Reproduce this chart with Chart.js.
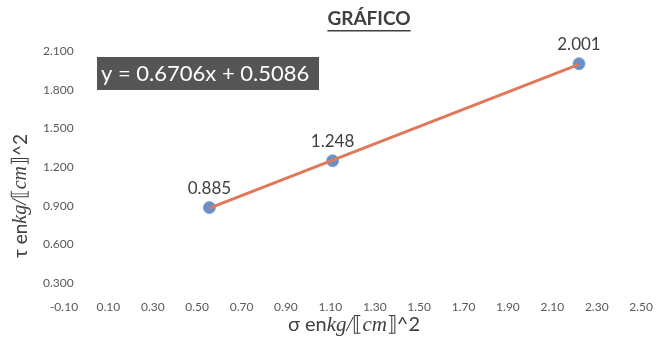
<!DOCTYPE html>
<html>
<head>
<meta charset="utf-8">
<script src="https://cdn.jsdelivr.net/npm/chart.js@4"></script>
<style>
  html, body { margin: 0; padding: 0; background: #fff; }
  #wrap { width: 662px; height: 340px; }
</style>
</head>
<body>
<div id="wrap"><canvas id="chart"></canvas></div>
<script>
// datos
const sigma = [0.555, 1.11, 2.22];
const tau = [0.885, 1.248, 2.001];
const etiquetas = ["0.885", "1.248", "2.001"];
const trendX = [0.555, 2.22];
const trendY = [0.881, 1.997];
const ecuacion = "y = 0.6706x + 0.5086";
const titulo = "GRÁFICO";

const SANS = "Lato, 'Open Sans', sans-serif";
const MATH = "'Liberation Serif', 'DejaVu Serif', serif";

// dibuja un texto con trozos de distinta fuente, centrado en (0,0)
function textoMixto(ctx, partes) {
  let total = 0;
  partes.forEach(p => { ctx.font = p.font; total += ctx.measureText(p.t).width; });
  let x = -total / 2;
  partes.forEach(p => {
    ctx.font = p.font;
    ctx.fillText(p.t, x, 0);
    x += ctx.measureText(p.t).width;
  });
}

function partesTitulo(simbolo, tam) {
  return [
    { t: simbolo + " en", font: tam + "px " + SANS },
    { t: "kg/", font: "italic " + (tam + 1) + "px " + MATH },
    { t: "⟦", font: (tam + 1) + "px " + MATH },
    { t: "cm", font: "italic " + (tam + 1) + "px " + MATH },
    { t: "⟧", font: (tam + 1) + "px " + MATH },
    { t: "^2", font: tam + "px " + SANS }
  ];
}

const extras = {
  id: "extras",
  afterDatasetsDraw(chart) {
    const ctx = chart.ctx;
    const meta = chart.getDatasetMeta(1);
    ctx.save();
    ctx.fillStyle = "#404040";
    ctx.font = "17px " + SANS;
    ctx.textAlign = "center";
    ctx.textBaseline = "middle";
    meta.data.forEach((pt, i) => {
      ctx.fillText(etiquetas[i], pt.x, pt.y - 19);
    });
    ctx.restore();
  },
  afterDraw(chart) {
    const ctx = chart.ctx;
    ctx.save();
    // título subrayado
    ctx.fillStyle = "#404040";
    ctx.font = "bold 19px " + SANS;
    ctx.textAlign = "center";
    ctx.textBaseline = "middle";
    ctx.fillText(titulo, 369, 19);
    const w = ctx.measureText(titulo).width;
    ctx.fillRect(369 - w / 2, 30, w, 1.5);

    // etiqueta de la ecuación
    ctx.fillStyle = "#555555";
    ctx.fillRect(97, 57, 222, 33);
    ctx.fillStyle = "#ffffff";
    ctx.font = "22px " + SANS;
    ctx.textAlign = "left";
    ctx.fillText(ecuacion, 101, 74);

    // títulos de los ejes
    ctx.fillStyle = "#404040";
    ctx.textBaseline = "middle";
    ctx.save();
    ctx.translate(354, 325);
    textoMixto(ctx, partesTitulo("σ", 20));
    ctx.restore();
    ctx.save();
    ctx.translate(21, 196);
    ctx.rotate(-Math.PI / 2);
    textoMixto(ctx, partesTitulo("τ", 19));
    ctx.restore();
    ctx.restore();
  }
};

new Chart(document.getElementById("chart"), {
  type: "scatter",
  data: {
    datasets: [
      {
        label: "Tendencia",
        data: trendX.map((x, i) => ({ x: x, y: trendY[i] })),
        showLine: true,
        borderColor: "#e2785a",
        borderWidth: 3,
        pointRadius: 0
      },
      {
        label: "τ",
        data: sigma.map((x, i) => ({ x: x, y: tau[i] })),
        backgroundColor: "#6790c8",
        borderColor: "#7fa3d3",
        borderWidth: 1,
        pointRadius: 6
      }
    ]
  },
  options: {
    responsive: true,
    maintainAspectRatio: false,
    animation: false,
    layout: { padding: { top: 51, right: 14, left: 0, bottom: 0 } },
    plugins: {
      legend: { display: false },
      tooltip: { enabled: false }
    },
    scales: {
      x: {
        type: "linear",
        min: -0.1,
        max: 2.5,
        grid: { display: false },
        border: { display: false },
        ticks: {
          stepSize: 0.2,
          color: "#595959",
          font: { family: SANS, size: 12 },
          padding: 9,
          maxRotation: 0,
          autoSkip: false,
          callback: v => v.toFixed(2)
        },
        afterFit: s => { s.height = 57; }
      },
      y: {
        min: 0.3,
        max: 2.1,
        grid: { display: false },
        border: { display: false },
        ticks: {
          stepSize: 0.3,
          color: "#595959",
          font: { family: SANS, size: 12 },
          mirror: true,
          crossAlign: "near",
          padding: -21,
          callback: v => v.toFixed(3)
        },
        afterFit: s => { s.width = 64; }
      }
    }
  },
  plugins: [extras]
});
</script>
</body>
</html>
